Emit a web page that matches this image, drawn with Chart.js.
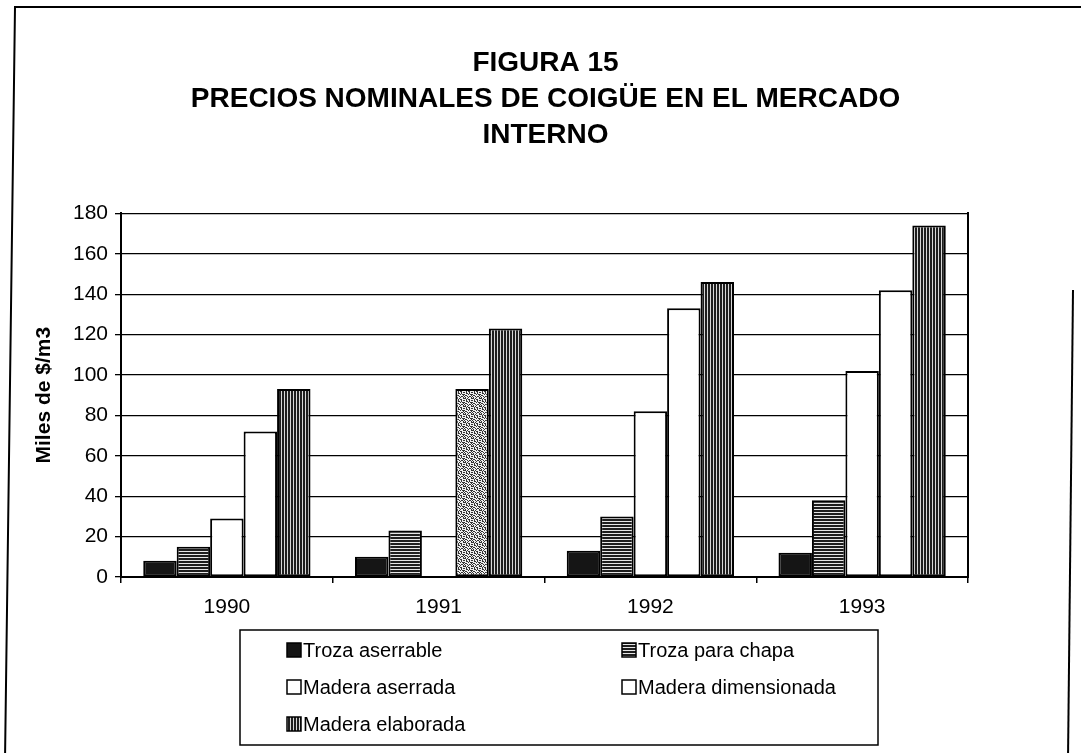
<!DOCTYPE html>
<html><head><meta charset="utf-8">
<script src="https://cdn.jsdelivr.net/npm/chart.js@4.4.0/dist/chart.umd.min.js"></script>
<style>html,body{margin:0;padding:0;background:#fff;}#wrap{width:1081px;height:753px;position:relative;}</style>
</head><body><div id="wrap"><canvas id="c" width="1081" height="753"></canvas></div>
<script>
const categories = ['1990', '1991', '1992', '1993'];
const trozaAserrable = [8, 10, 13, 12];
const trozaChapa = [15, 23, 30, 38];
const maderaAserrada = [29, null, 82, 102];
const maderaDimensionada = [72, 93, 133, 142];
const maderaElaborada = [93, 123, 146, 174];
const seriesNames = ['Troza aserrable', 'Troza para chapa', 'Madera aserrada', 'Madera dimensionada', 'Madera elaborada'];
const yTickValues = [0, 20, 40, 60, 80, 100, 120, 140, 160, 180];
const titleLines = ['FIGURA 15', 'PRECIOS NOMINALES DE COIGÜE EN EL MERCADO', 'INTERNO'];
const yTitle = 'Miles de $/m3';

const FONT = "'Liberation Sans', Arial, sans-serif";

function makePattern(w, h, draw) {
  const c = document.createElement('canvas'); c.width = w; c.height = h;
  const x = c.getContext('2d'); draw(x, w, h);
  return x.createPattern(c, 'repeat');
}
const patChapa = makePattern(4, 3, (x) => { x.fillStyle = '#1e1e1e'; x.fillRect(0, 0, 4, 3); x.fillStyle = '#e6e6e6'; x.fillRect(0, 2, 4, 1); });
const patElab = makePattern(3, 4, (x) => { x.fillStyle = '#1e1e1e'; x.fillRect(0, 0, 3, 4); x.fillStyle = '#d8d8d8'; x.fillRect(2, 0, 1, 4); });
const speckTile = [
  '#.#..#.#',
  '..##.#..',
  '#...#.##',
  '.##....#',
  '#..#.##.',
  '.#..#..#',
  '##.#...#',
  '..#.##..'
];
const patSpeck = makePattern(8, 8, (x) => {
  x.fillStyle = '#efefef'; x.fillRect(0, 0, 8, 8);
  x.fillStyle = '#333';
  speckTile.forEach((row, j) => { for (let i = 0; i < row.length; i++) if (row[i] === '#') x.fillRect(i, j, 1, 1); });
});

const fills = ['#151515', patChapa, '#ffffff', ['#ffffff', patSpeck, '#ffffff', '#ffffff'], patElab];
const legendFills = ['#151515', patChapa, '#ffffff', '#ffffff', patElab];
const seriesData = [trozaAserrable, trozaChapa, maderaAserrada, maderaDimensionada, maderaElaborada];

const framePlugin = {
  id: 'frameAndLegend',
  beforeDraw(chart) {
    const c = chart.ctx;
    c.save(); c.fillStyle = '#fff'; c.fillRect(0, 0, chart.width, chart.height); c.restore();
  },
  afterDraw(chart) {
    const c = chart.ctx;
    c.save();
    c.strokeStyle = '#000'; c.lineWidth = 2;
    c.beginPath(); c.moveTo(5, 760); c.lineTo(15, 7); c.lineTo(1081, 7); c.stroke();
    c.beginPath(); c.moveTo(1073, 290); c.lineTo(1068, 760); c.stroke();
    // legend box
    const L = 240, T = 630, R = 878, B = 745;
    c.lineWidth = 1.5; c.strokeRect(L, T, R - L, B - T);
    const cols = [287, 622];
    const rows = [650, 687, 724];
    c.font = '20px ' + FONT; c.textBaseline = 'middle';
    chart.data.datasets.forEach((ds, i) => {
      const x = cols[i % 2], y = rows[Math.floor(i / 2)];
      c.fillStyle = legendFills[i];
      c.fillRect(x, y - 7, 14, 14);
      c.lineWidth = 1.5; c.strokeStyle = '#000'; c.strokeRect(x, y - 7, 14, 14);
      c.fillStyle = '#000';
      c.fillText(ds.label, x + 16, y + 1);
    });
    c.restore();
  }
};

new Chart(document.getElementById('c'), {
  type: 'bar',
  data: {
    labels: categories,
    datasets: seriesNames.map((n, i) => ({
      label: n, data: seriesData[i], backgroundColor: fills[i],
      borderColor: '#000', borderWidth: 2, borderSkipped: false,
      barPercentage: 1, categoryPercentage: 0.79
    }))
  },
  options: {
    responsive: false, animation: false,
    layout: { padding: { left: 10, right: 0, top: 0, bottom: 0 } },
    plugins: {
      legend: { display: false },
      tooltip: { enabled: false },
      title: {
        display: true, text: titleLines, color: '#000',
        font: { family: FONT, size: 28, weight: 'bold', lineHeight: 1.29 },
        padding: { top: 45, bottom: 60 }
      }
    },
    scales: {
      x: {
        grid: { display: true, drawOnChartArea: false, drawTicks: true, tickLength: 6, color: '#000', lineWidth: 1.5, offset: true },
        border: { display: true, color: '#000', width: 2 },
        ticks: { color: '#000', font: { family: FONT, size: 21 }, padding: 12, maxRotation: 0 },
        afterFit: (s) => { s.height = 176; }
      },
      y: {
        min: 0, max: 180,
        afterBuildTicks: (s) => { s.ticks = yTickValues.map(v => ({ value: v })); },
        grid: { color: '#000', lineWidth: 1.3, tickLength: 6 },
        border: { display: true, color: '#000', width: 2 },
        ticks: { color: '#000', font: { family: FONT, size: 21 }, padding: 7 },
        title: { display: true, text: yTitle, color: '#000', font: { family: FONT, size: 21, weight: 'bold' }, padding: { top: 22, bottom: 0 } },
        afterFit: (s) => { s.width = 111; }
      },
      y2: {
        position: 'right', display: true,
        grid: { display: false, drawOnChartArea: false, drawTicks: false },
        border: { display: true, color: '#000', width: 2 },
        ticks: { display: false },
        afterFit: (s) => { s.width = 113; }
      }
    }
  },
  plugins: [framePlugin]
});
</script></body></html>
